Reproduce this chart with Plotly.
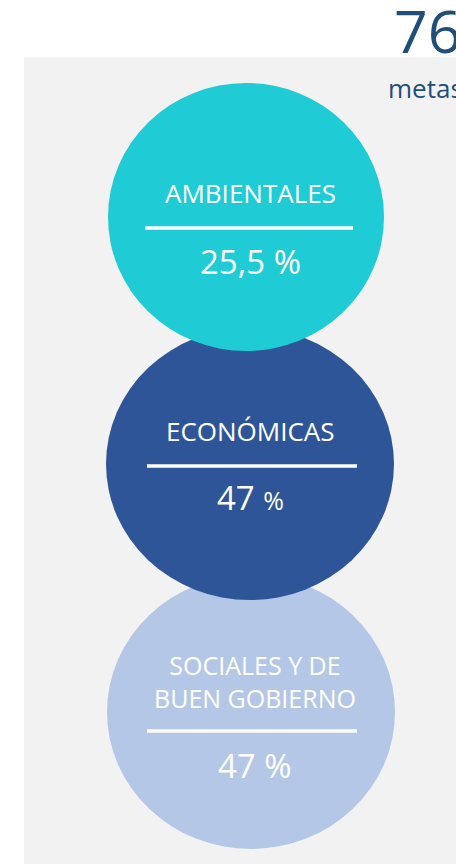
import plotly.graph_objects as go

# ---- data ----
categories = ["AMBIENTALES", "ECONÓMICAS", "SOCIALES Y DE<br>BUEN GOBIERNO"]
percent_labels = ["25,5", "47", "47"]
total_goals = "76"
total_label = "metas"

# ---- layout / style constants ----
W, H = 456, 865
colors = ["#1FCBD4", "#2E5597", "#B4C7E7"]
cx = [246, 250, 251]
cy = [217, 464, 712]
rx = [138, 144, 144]
ry = [134, 136, 137]
text_dx = [4, 0, 4]
label_y = [193, 431, 681]
label_size = [26, 26, 25]
rule_y = [228, 466, 731]
rule_x0 = [145, 147, 147]
rule_x1 = [353, 357, 357]
value_y = [261, 497, 765]
pct_size = [33, 25, 33]
FONT = "Open Sans"

fig = go.Figure()

shapes = [dict(type="rect", xref="x", yref="y", x0=24, x1=W, y0=57, y1=864,
               fillcolor="#F2F2F2", line=dict(width=0), layer="below")]
# draw bottom circle first so upper ones overlap
for i in reversed(range(len(categories))):
    shapes.append(dict(type="circle", xref="x", yref="y",
                       x0=cx[i] - rx[i], x1=cx[i] + rx[i],
                       y0=cy[i] - ry[i], y1=cy[i] + ry[i],
                       fillcolor=colors[i], line=dict(width=0), layer="below"))
    shapes.append(dict(type="line", xref="x", yref="y",
                       x0=rule_x0[i], x1=rule_x1[i], y0=rule_y[i], y1=rule_y[i],
                       line=dict(color="white", width=3.5), layer="below"))

annotations = []
for i, cat in enumerate(categories):
    annotations.append(dict(x=cx[i] + text_dx[i], y=label_y[i], xref="x", yref="y", text=cat,
                            showarrow=False, xanchor="center", yanchor="middle",
                            font=dict(family=FONT, size=label_size[i], color="white")))
    annotations.append(dict(x=cx[i] + text_dx[i], y=value_y[i], xref="x", yref="y",
                            text=f"{percent_labels[i]} <span style='font-size:{pct_size[i]}px'>%</span>",
                            showarrow=False, xanchor="center", yanchor="middle",
                            font=dict(family=FONT, size=33, color="white")))

annotations.append(dict(x=392, y=30, xref="x", yref="y", text=total_goals,
                        showarrow=False, xanchor="left", yanchor="middle",
                        font=dict(family=FONT, size=59, color="#1F4E79")))
annotations.append(dict(x=386, y=88, xref="x", yref="y", text=total_label,
                        showarrow=False, xanchor="left", yanchor="middle",
                        font=dict(family=FONT, size=26, color="#1F4E79")))

fig.update_layout(
    width=W, height=H, margin=dict(l=0, r=0, t=0, b=0),
    paper_bgcolor="white", plot_bgcolor="white",
    xaxis=dict(range=[0, W], visible=False, fixedrange=True),
    yaxis=dict(range=[H, 0], visible=False, fixedrange=True),
    shapes=shapes, annotations=annotations, showlegend=False,
)
fig.write_html(
    "out.html",
    config={"displayModeBar": False},
    post_script="document.body.style.margin='0';document.body.style.overflow='hidden';",
)
